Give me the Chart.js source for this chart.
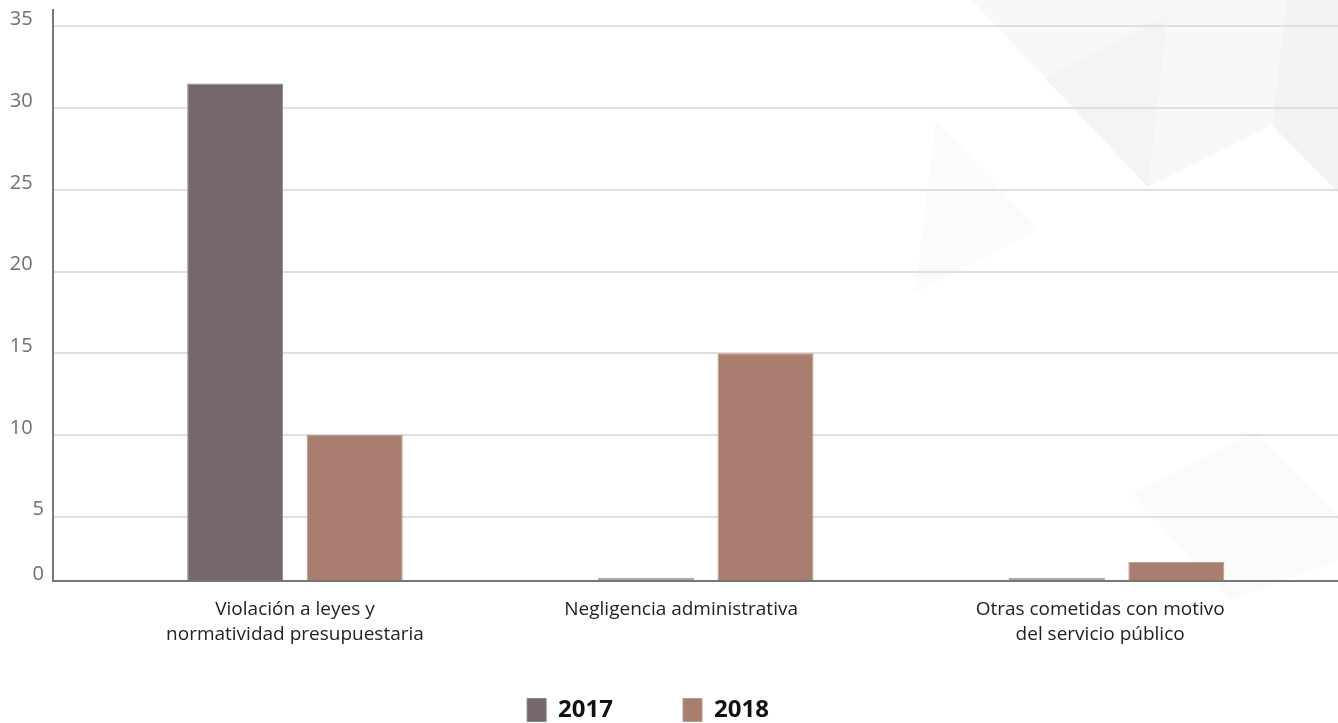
<!DOCTYPE html>
<html lang="es">
<head>
<meta charset="utf-8">
<title>Faltas administrativas 2017–2018</title>
<script src="https://cdn.jsdelivr.net/npm/chart.js@4.4.1/dist/chart.umd.min.js"></script>
<style>
  html, body { margin: 0; padding: 0; background: #fff; overflow: hidden; }
  #marco { position: relative; width: 1338px; height: 723px; overflow: hidden; }
  #grafica { position: absolute; left: -42px; top: 0; }
</style>
</head>
<body>
<div id="marco"><canvas id="grafica" width="1380" height="732"></canvas></div>
<script>
// categorías del eje x, una línea por elemento
var categorias = [
    ['Violación a leyes y', 'normatividad presupuestaria'],
    ['Negligencia administrativa'],
    ['Otras cometidas con motivo', 'del servicio público']
];
var anios = ['2017', '2018'];
var valores2017 = [31.5, 0, 0];
var valores2018 = [10, 15, 1.5];
var marcasY = [0, 5, 10, 15, 20, 25, 30, 35];

// dónde va cada etiqueta de categoría sobre el eje x (no quedan justo bajo cada grupo)
var posicionesEtiquetas = [0, 0.94, 1.96];

// el tramo de 0 a 5 se dibuja más corto que los demás
var CORTE = 5;
var FACTOR_TRAMO_BAJO = 0.786;

function aVirtual(v) {
    return v <= CORTE ? v * FACTOR_TRAMO_BAJO : CORTE * FACTOR_TRAMO_BAJO + (v - CORTE);
}

function deVirtual(u) {
    let c = CORTE * FACTOR_TRAMO_BAJO;
    return u <= c ? u / FACTOR_TRAMO_BAJO : u - c + CORTE;
}

class EscalaQuebrada extends Chart.LinearScale {
    static id = 'quebrada';
    getPixelForValue(value) {
        let a = aVirtual(this.min), b = aVirtual(this.max);
        return this.getPixelForDecimal((aVirtual(value) - a) / (b - a));
    }
    getValueForPixel(pixel) {
        let a = aVirtual(this.min), b = aVirtual(this.max);
        return deVirtual(a + this.getDecimalForPixel(pixel) * (b - a));
    }
}
Chart.register(EscalaQuebrada);

// triángulos grises del fondo
var fondo = [
    { color: '#f8f8f8', puntos: [[1014, 0], [1190, 187], [1314, 125], [1380, 192], [1380, 0]] },
    { color: '#f4f4f4', puntos: [[1087, 78], [1210, 15], [1190, 187]] },
    { color: '#f3f3f3', puntos: [[1329, 0], [1380, 0], [1380, 192], [1314, 125]] },
    { color: '#fbfbfb', puntos: [[978, 121], [1080, 230], [957, 293]] },
    { color: '#fbfbfb', puntos: [[1174, 494], [1297, 432], [1380, 515], [1380, 560], [1272, 600]] }
];

var pluginFondo = {
    id: 'fondo',
    beforeDraw(chart) {
        let ctx = chart.ctx;
        ctx.save();
        ctx.fillStyle = '#fff';
        ctx.fillRect(0, 0, chart.width, chart.height);
        fondo.forEach(f => {
            ctx.fillStyle = f.color;
            ctx.beginPath();
            f.puntos.forEach((p, i) => i === 0 ? ctx.moveTo(p[0], p[1]) : ctx.lineTo(p[0], p[1]));
            ctx.closePath();
            ctx.fill();
        });
        ctx.restore();
    }
};

// las etiquetas de dos líneas bajan hasta la zona de la leyenda; se amplía el recorte del eje x
var pluginEtiquetasX = {
    id: 'etiquetasX',
    afterLayout(chart) {
        chart.scales.x.bottom = chart.height;
    }
};

function esCero(ctx) {
    return ctx.raw && ctx.raw.y === 0;
}

let ctx = document.getElementById('grafica').getContext('2d');
new Chart(ctx, {
    type: 'bar',
    data: {
        datasets: [{
            label: anios[0],
            data: valores2017.map((y, i) => ({ x: i, y: y })),
            backgroundColor: c => esCero(c) ? '#a8a8a8' : '#76676f',
            borderColor: '#8b7f86',
            borderWidth: c => esCero(c) ? 0 : 1,
            minBarLength: 3,
            categoryPercentage: 0.619,
            barPercentage: 0.803
        }, {
            label: anios[1],
            data: valores2018.map((y, i) => ({ x: i, y: y })),
            backgroundColor: '#a97e6e',
            borderColor: '#bd9687',
            borderWidth: 1,
            categoryPercentage: 0.619,
            barPercentage: 0.803
        }]
    },
    options: {
        responsive: false,
        animation: false,
        layout: { padding: { top: 10, left: 0, right: 0, bottom: 0 } },
        plugins: {
            tooltip: { enabled: false },
            legend: {
                position: 'bottom',
                labels: {
                    boxWidth: 19,
                    boxHeight: 23,
                    padding: 70,
                    color: '#111',
                    font: { family: 'Open Sans', size: 24, weight: 'bold' }
                }
            }
        },
        scales: {
            x: {
                type: 'linear',
                bounds: 'data',
                offset: false,
                min: -0.589,
                max: 2.539,
                afterBuildTicks: s => { s.ticks = posicionesEtiquetas.map(v => ({ value: v })); },
                afterFit: s => { s.height = 47; s.paddingLeft = 0; s.paddingRight = 0; },
                grid: { display: false, drawTicks: false },
                border: { color: '#777', width: 2 },
                ticks: {
                    callback: (v, i) => categorias[i],
                    autoSkip: false,
                    maxRotation: 0,
                    padding: 16,
                    color: '#222',
                    font: { family: 'Open Sans', size: 19, lineHeight: 1.316 }
                }
            },
            y: {
                type: 'quebrada',
                bounds: 'data',
                min: 0,
                max: 36,
                afterBuildTicks: s => { s.ticks = marcasY.map(v => ({ value: v })); },
                afterFit: s => { s.width = 95; s.paddingTop = 0; s.paddingBottom = 0; },
                grid: {
                    color: c => c.tick && c.tick.value === 0 ? 'rgba(0,0,0,0)' : '#dfdfdf',
                    lineWidth: 2,
                    drawTicks: false
                },
                border: { color: '#777', width: 2 },
                ticks: {
                    // los números de dos cifras llevan un espacio de cifra detrás
                    callback: v => v >= 10 ? v + '\u2007' : String(v),
                    padding: 9,
                    labelOffset: -7,
                    color: '#6f6f6f',
                    font: { family: 'Open Sans', size: 20 }
                }
            }
        }
    },
    plugins: [pluginFondo, pluginEtiquetasX]
});
</script>
</body>
</html>
